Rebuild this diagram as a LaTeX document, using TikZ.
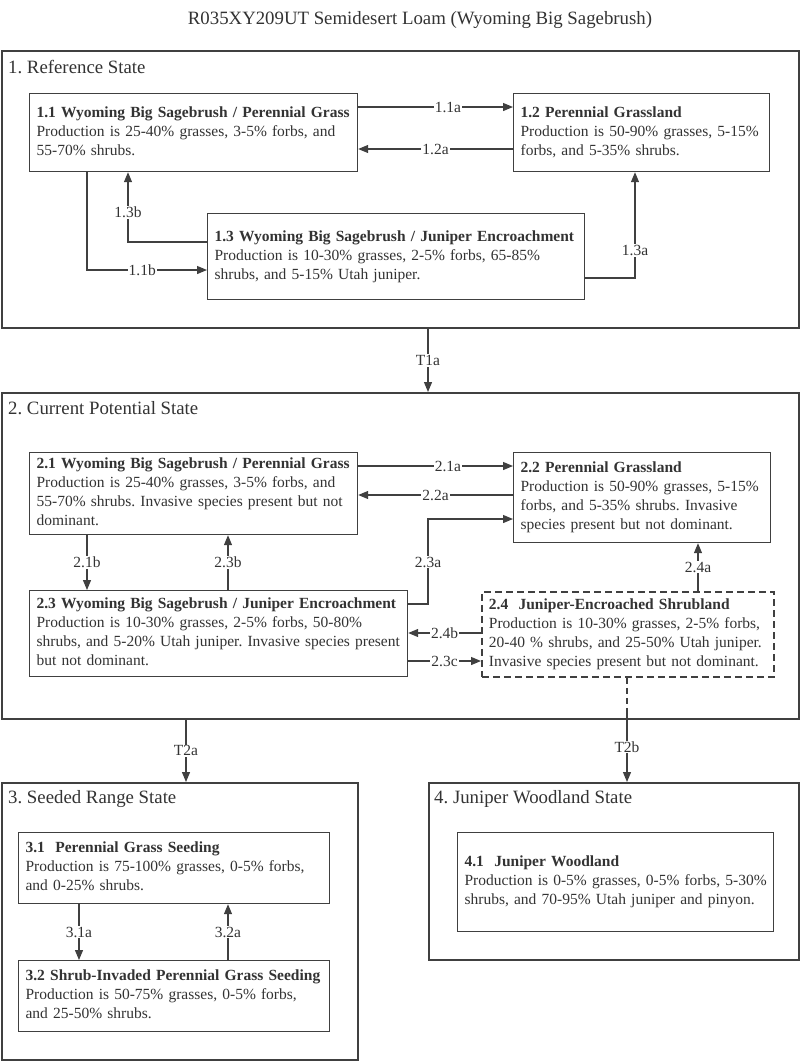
\documentclass[tikz,border=0pt]{standalone}
\usepackage{fontspec}
\setmainfont{Liberation Serif}
\usetikzlibrary{arrows.meta}
\definecolor{ink}{HTML}{333333}
\definecolor{edge}{HTML}{404040}
\frenchspacing
\begin{document}
\begin{tikzpicture}[x=1pt,y=-1pt,
  statebox/.style={draw=edge, line width=1.8pt, anchor=north west, inner sep=0pt, minimum width=#1},
  statelbl/.style={anchor=west, text=ink, font=\fontsize{18.8}{22}\selectfont, inner sep=0pt},
  phase/.style={draw=edge, line width=1.2pt, anchor=north west, inner xsep=7pt, inner ysep=0pt, align=left, text=ink, font=\fontsize{15.5}{19}\selectfont},
  dphase/.style={phase, dash pattern=on 7pt off 4pt, line width=1.8pt},
  arr/.style={draw=edge, line width=1.2pt, -{Triangle[length=10pt,width=8pt]}},
  lbl/.style={fill=white, text=ink, inner sep=1pt, font=\fontsize{15.5}{17}\selectfont}
]
\useasboundingbox (0,0) rectangle (800,1061);
\fill[white] (0,0) rectangle (800,1061);

\node[text=ink, font=\fontsize{18.8}{22}\selectfont] (title) at (420,20) {R035XY209UT Semidesert Loam (Wyoming Big Sagebrush)};

% ---------- State 1 ----------
\node[statebox=797pt, minimum height=277pt] (s1) at (1,50) {};
\node[statelbl] (s1l) at (8,67) {1. Reference State};

\node[phase, minimum width=328pt, minimum height=78pt, text width=314pt] (p11) at (29,93)
 {\begin{tabular}{@{}l@{}}\textbf{1.1 Wyoming Big Sagebrush / Perennial Grass}\\Production is 25-40\% grasses, 3-5\% forbs, and\\55-70\% shrubs.\end{tabular}};
\node[phase, minimum width=256pt, minimum height=78pt, text width=242pt] (p12) at (513,93)
 {\begin{tabular}{@{}l@{}}\textbf{1.2 Perennial Grassland}\\Production is 50-90\% grasses, 5-15\%\\forbs, and 5-35\% shrubs.\end{tabular}};
\node[phase, minimum width=377pt, minimum height=86pt, text width=363pt] (p13) at (207,213)
 {\begin{tabular}{@{}l@{}}\textbf{1.3 Wyoming Big Sagebrush / Juniper Encroachment}\\Production is 10-30\% grasses, 2-5\% forbs, 65-85\%\\shrubs, and 5-15\% Utah juniper.\end{tabular}};

\draw[arr] (p11.east |- 0,107) -- node[lbl, pos=0.58]{1.1a} (p12.west |- 0,107);
\draw[arr] (p12.west |- 0,149) -- node[lbl]{1.2a} (p11.east |- 0,149);
\draw[arr] (p13.west |- 0,242) -| node[lbl, pos=0.71]{1.3b} (p11.south -| 128,0);
\draw[arr] (p11.south -| 87,0) |- node[lbl, pos=0.73]{1.1b} (p13.west |- 0,270);
\draw[arr] (p13.east |- 0,278) -| node[lbl, pos=0.63]{1.3a} (p12.south -| 635,0);

% ---------- State 2 ----------
\node[statebox=797pt, minimum height=326pt] (s2) at (1,392) {};
\node[statelbl] (s2l) at (8,408) {2. Current Potential State};

\draw[arr] (s1.south -| 428,0) -- node[lbl]{T1a} (s2.north -| 428,0);

\node[phase, minimum width=328pt, minimum height=82pt, text width=314pt] (p21) at (29,452)
 {\begin{tabular}{@{}l@{}}\textbf{2.1 Wyoming Big Sagebrush / Perennial Grass}\\Production is 25-40\% grasses, 3-5\% forbs, and\\55-70\% shrubs. Invasive species present but not\\dominant.\end{tabular}};
\node[phase, minimum width=257pt, minimum height=90pt, text width=243pt] (p22) at (513,452)
 {\begin{tabular}{@{}l@{}}\textbf{2.2 Perennial Grassland}\\Production is 50-90\% grasses, 5-15\%\\forbs, and 5-35\% shrubs. Invasive\\species present but not dominant.\end{tabular}};
\node[phase, minimum width=378pt, minimum height=86pt, text width=364pt] (p23) at (29,590)
 {\begin{tabular}{@{}l@{}}\textbf{2.3 Wyoming Big Sagebrush / Juniper Encroachment}\\Production is 10-30\% grasses, 2-5\% forbs, 50-80\%\\shrubs, and 5-20\% Utah juniper. Invasive species present\\but not dominant.\end{tabular}};
\node[dphase, minimum width=292pt, minimum height=85pt, text width=278pt] (p24) at (481,591)
 {\begin{tabular}{@{}l@{}}\textbf{2.4\ \ Juniper-Encroached Shrubland}\\Production is 10-30\% grasses, 2-5\% forbs,\\20-40 \% shrubs, and 25-50\% Utah juniper.\\Invasive species present but not dominant.\end{tabular}};

\draw[arr] (p21.east |- 0,466) -- node[lbl, pos=0.58]{2.1a} (p22.west |- 0,466);
\draw[arr] (p22.west |- 0,495) -- node[lbl]{2.2a} (p21.east |- 0,495);
\draw[arr] (p23.east |- 0,604) -| (428,562) node[lbl]{2.3a} |- (p22.west |- 0,519);
\draw[arr] (p21.south -| 87,0) -- node[lbl]{2.1b} (p23.north -| 87,0);
\draw[arr] (p23.north -| 228,0) -- node[lbl]{2.3b} (p21.south -| 228,0);
\draw[arr] (p24.north -| 698,0) -- node[lbl]{2.4a} (p22.south -| 698,0);
\draw[arr] (p24.west |- 0,633) -- node[lbl]{2.4b} (p23.east |- 0,633);
\draw[arr] (p23.east |- 0,661) -- node[lbl]{2.3c} (p24.west |- 0,661);

% ---------- State 3 ----------
\node[statebox=356pt, minimum height=277pt] (s3) at (1,782) {};
\node[statelbl] (s3l) at (8,799) {3. Seeded Range State};

\draw[arr] (s2.south -| 186,0) -- node[lbl]{T2a} (s3.north -| 186,0);

\node[phase, minimum width=311pt, minimum height=71pt, text width=297pt] (p31) at (18,832)
 {\begin{tabular}{@{}l@{}}\textbf{3.1\ \ Perennial Grass Seeding}\\Production is 75-100\% grasses, 0-5\% forbs,\\and 0-25\% shrubs.\end{tabular}};
\node[phase, minimum width=311pt, minimum height=71pt, text width=297pt] (p32) at (18,960)
 {\begin{tabular}{@{}l@{}}\textbf{3.2 Shrub-Invaded Perennial Grass Seeding}\\Production is 50-75\% grasses, 0-5\% forbs,\\and 25-50\% shrubs.\end{tabular}};

\draw[arr] (p31.south -| 79,0) -- node[lbl]{3.1a} (p32.north -| 79,0);
\draw[arr] (p32.north -| 228,0) -- node[lbl]{3.2a} (p31.south -| 228,0);

% ---------- State 4 ----------
\node[statebox=370pt, minimum height=177pt] (s4) at (428,782) {};
\node[statelbl] (s4l) at (434,799) {4. Juniper Woodland State};

\node[phase, minimum width=316pt, minimum height=99pt, text width=302pt] (p41) at (457,832)
 {\begin{tabular}{@{}l@{}}\textbf{4.1\ \ Juniper Woodland}\\Production is 0-5\% grasses, 0-5\% forbs, 5-30\%\\shrubs, and 70-95\% Utah juniper and pinyon.\end{tabular}};

\coordinate (t2bmid) at (627,712);
\draw[draw=edge, line width=1.2pt, dash pattern=on 6pt off 4pt] (p24.south -| 627,0) -- (t2bmid);
\draw[arr] (t2bmid) -- node[lbl]{T2b} (s4.north -| 627,0);
\end{tikzpicture}
\end{document}
